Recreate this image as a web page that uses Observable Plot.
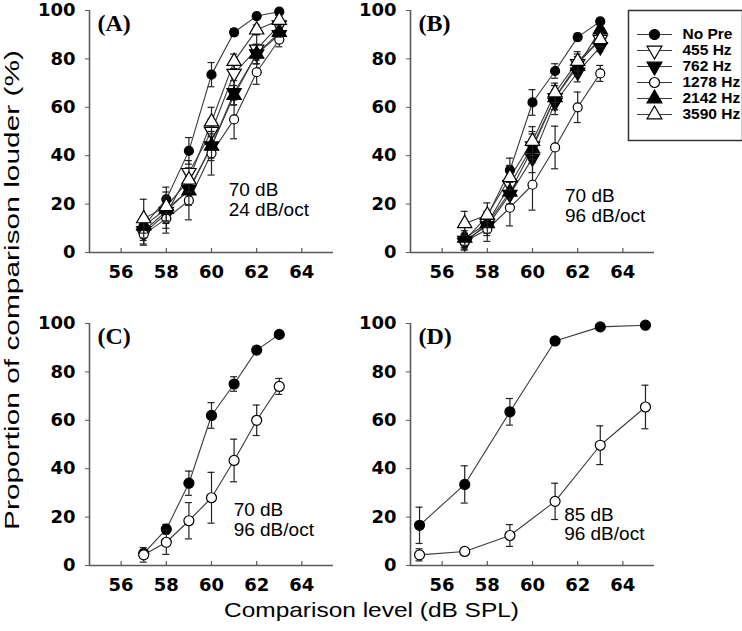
<!DOCTYPE html>
<html><head><meta charset="utf-8">
<script src="https://cdn.jsdelivr.net/npm/d3@7"></script>
<script src="https://cdn.jsdelivr.net/npm/@observablehq/plot@0.6"></script>
<style>
body{margin:0;background:#fff;}
#root{position:relative;width:742px;height:631px;overflow:hidden;background:#fff;font-family:"Liberation Sans",Arial,sans-serif;}
.panel{position:absolute;line-height:0;}
.panel svg{max-width:none;display:block;overflow:visible;}
</style></head><body><div id="root"></div>
<script>
// ---- series definitions ----
const seriesNames   = ["No Pre", "455 Hz", "762 Hz", "1278 Hz", "2142 Hz", "3590 Hz"];
const markerSymbol  = ["circle", "triangle", "triangle", "circle", "triangle", "triangle"];
const markerFilled  = [true, false, true, false, true, false];
const markerRotate  = [0, 180, 180, 0, 0, 0];

// ---- axes ----
const xTicks = [56, 58, 60, 62, 64];
const yTicks = [0, 20, 40, 60, 80, 100];
const levelsABC = [57, 58, 59, 60, 61, 62, 63];
const levelsD = [55, 57, 59, 61, 63, 65];

// ---- Panel A (70 dB, 24 dB/oct) ----
const A_noPre   = [11, 22, 42, 73.5, 91, 97.7, 99.5];
const A_noPreE  = [3, 5, 5.5, 5, 1.5, 1, 0.5];
const A_455     = [8, 16, 33, 50, 74, 84, 94];
const A_455E    = [5, 6, 5, 5, 5, 6, 3];
const A_762     = [9, 17, 26, 44, 66, 82, 90];
const A_762E    = [4, 5, 6, 6, 5, 4, 3];
const A_1278    = [7.5, 14, 21.5, 41, 55, 74.5, 88];
const A_1278E   = [4, 6, 8, 9, 8, 5, 3];
const A_2142    = [11, 18, 25.5, 44, 65, 82, 91];
const A_2142E   = [3, 5, 6, 5, 4, 4, 2];
const A_3590    = [14, 19, 30, 54, 79, 92, 96];
const A_3590E   = [8, 6, 5, 6, 3, 2, 2];

// ---- Panel B (70 dB, 96 dB/oct) ----
const B_noPre   = [5, 15, 34, 62, 75, 89, 95.5];
const B_noPreE  = [1.5, 2, 5, 5.3, 3, 1.5, 1];
const B_455     = [4, 12, 28, 44, 64, 78, 88];
const B_455E    = [3, 4, 5, 6, 5, 4, 3];
const B_762     = [5, 11, 24, 39, 62, 74.5, 85];
const B_762E    = [3, 4, 5, 6, 5, 4, 2];
const B_1278    = [4.4, 9.6, 18.5, 28, 43.4, 60, 74];
const B_1278E   = [3, 5, 7.5, 10.5, 8.8, 6.3, 3.3];
const B_2142    = [6, 12, 25, 43, 64, 77, 92];
const B_2142E   = [3, 4, 5, 6, 5, 4, 2];
const B_3590    = [12, 15.5, 31, 46, 66, 79, 88];
const B_3590E   = [5, 5, 5, 6, 4, 4, 3];

// ---- Panel C (70 dB, 96 dB/oct; No Pre vs 1278 Hz) ----
const C_noPre   = [5, 15, 34, 62, 75, 89, 95.5];
const C_noPreE  = [1.5, 2, 5, 5.3, 3, 1.5, 1];
const C_1278    = [4.4, 9.6, 18.5, 28, 43.4, 60, 74];
const C_1278E   = [3, 5, 7.5, 10.5, 8.8, 6.3, 3.3];

// ---- Panel D (85 dB, 96 dB/oct; No Pre vs 1278 Hz) ----
const D_noPre   = [16.6, 33.5, 63.5, 92.8, 98.6, 99.3];
const D_noPreE  = [7.5, 7.7, 5.5, 1.5, 1, 1];
const D_1278    = [4.4, 5.8, 12.4, 26.5, 49.7, 65.5];
const D_1278E   = [2.5, 1.5, 4.5, 7.5, 8, 9];

const panels = [
  {label: "(A)", note: "70 dB\n24 dB/oct", noteX: 60.76, noteY: 21.9, left: 0, top: 0, r: 4.5, levels: levelsABC,
   series: [[0, A_noPre, A_noPreE], [1, A_455, A_455E], [2, A_762, A_762E], [3, A_1278, A_1278E], [4, A_2142, A_2142E], [5, A_3590, A_3590E]]},
  {label: "(B)", note: "70 dB\n96 dB/oct", noteX: 61.44, noteY: 19.4, left: 321, top: 0, r: 4.5, levels: levelsABC,
   series: [[0, B_noPre, B_noPreE], [1, B_455, B_455E], [2, B_762, B_762E], [3, B_1278, B_1278E], [4, B_2142, B_2142E], [5, B_3590, B_3590E]]},
  {label: "(C)", note: "70 dB\n96 dB/oct", noteX: 60.98, noteY: 19, left: 0, top: 313, r: 5, levels: levelsABC,
   series: [[0, C_noPre, C_noPreE], [3, C_1278, C_1278E]]},
  {label: "(D)", note: "85 dB\n96 dB/oct", noteX: 61.4, noteY: 17.1, left: 321, top: 313, r: 5, levels: levelsD,
   series: [[0, D_noPre, D_noPreE], [3, D_1278, D_1278E]]}
];

const root = document.getElementById("root");
const axisColor = "#5a5a5a";
const lineColor = "#3a3a3a";
const tickFont = "DejaVu Sans, Liberation Sans, Arial, sans-serif";
const xDomain = [54.6, 65.4];

function makePanel(cfg) {
  const marks = [
    Plot.ruleY([0], {stroke: axisColor, strokeWidth: 1.6}),
    Plot.ruleX([xDomain[0]], {stroke: axisColor, strokeWidth: 1.6}),
    Plot.ruleX(xTicks, {x: d => d, y1: 0, y2: 0, insetTop: -4, stroke: axisColor, strokeWidth: 1.2}),
    Plot.axisX({ticks: xTicks, tickSize: 0, tickPadding: 13, fontSize: 18, fontWeight: "bold", fontFamily: tickFont, label: null, fill: "#000"}),
    Plot.axisY({ticks: yTicks, tickSize: 4, tickPadding: 10, fontSize: 18, fontWeight: "bold", fontFamily: tickFont, label: null, stroke: axisColor, fill: "#000"})
  ];
  for (const [si, vals, errs] of cfg.series) {
    const rows = vals.map((v, i) => ({x: cfg.levels[i], y: v, e: errs[i]}));
    marks.push(Plot.line(rows, {x: "x", y: "y", stroke: lineColor, strokeWidth: 1.1}));
  }
  for (const [si, vals, errs] of cfg.series) {
    const rows = vals.map((v, i) => ({x: cfg.levels[i], y: v, e: errs[i]}));
    marks.push(Plot.ruleX(rows, {x: "x", y1: d => d.y - d.e, y2: d => Math.min(100.5, d.y + d.e), stroke: "#222", strokeWidth: 1.2}));
    marks.push(Plot.ruleY(rows, {y: d => d.y - d.e, x1: "x", x2: "x", insetLeft: -3.5, insetRight: -3.5, stroke: "#222", strokeWidth: 1.2}));
    marks.push(Plot.ruleY(rows, {y: d => Math.min(100.5, d.y + d.e), x1: "x", x2: "x", insetLeft: -3.5, insetRight: -3.5, stroke: "#222", strokeWidth: 1.2}));
    marks.push(Plot.dot(rows, {x: "x", y: "y", symbol: markerSymbol[si], rotate: markerRotate[si],
      r: markerSymbol[si] === "circle" ? cfg.r : cfg.r + 0.8,
      fill: markerFilled[si] ? "#000" : "#fff", stroke: "#000", strokeWidth: 1.2}));
  }
  marks.push(Plot.text([cfg.label], {text: d => d, frameAnchor: "top-left", dx: 8, dy: 3, lineAnchor: "top", textAnchor: "start",
    fontFamily: "Liberation Serif, Times New Roman, serif", fontWeight: "bold", fontSize: 24, fill: "#000"}));
  marks.push(Plot.text([cfg.note], {text: d => d, x: cfg.noteX, y: cfg.noteY, textAnchor: "start", lineAnchor: "middle",
    fontSize: 19, lineHeight: 1.05, fill: "#000"}));

  const chart = Plot.plot({
    width: 371, height: 300,
    marginLeft: 89, marginRight: 38, marginTop: 10, marginBottom: 48,
    x: {domain: xDomain},
    y: {domain: [0, 100]},
    style: {background: "transparent", fontFamily: "Liberation Sans, Arial, sans-serif", color: "#000"},
    marks
  });
  const div = document.createElement("div");
  div.className = "panel";
  div.style.left = cfg.left + "px";
  div.style.top = cfg.top + "px";
  div.appendChild(chart);
  root.appendChild(div);
}
panels.forEach(makePanel);

// ---- legend ----
const legendRows = seriesNames.map((name, i) => ({name, i}));
const legendMarks = [
  Plot.frame({stroke: "#333", strokeWidth: 1.5}),
  Plot.ruleY(legendRows, {y: "name", x1: 9, x2: 44, stroke: lineColor, strokeWidth: 1.1})
];
legendRows.forEach(row => {
  legendMarks.push(Plot.dot([row], {y: "name", x: 26, symbol: markerSymbol[row.i], rotate: markerRotate[row.i],
    r: markerSymbol[row.i] === "circle" ? 5 : 5.5,
    fill: markerFilled[row.i] ? "#000" : "#fff", stroke: "#000", strokeWidth: 1.2}));
});
legendMarks.push(Plot.text(legendRows, {y: "name", x: 54, text: "name", textAnchor: "start", fontSize: 15.5, fontWeight: "bold",
  fontFamily: "Liberation Sans, Arial, sans-serif", fill: "#000"}));
const legend = Plot.plot({
  width: 114, height: 130, margin: 0,
  x: {type: "identity", axis: null},
  y: {type: "point", domain: seriesNames, range: [14.3, 114.3], axis: null},
  style: {background: "#fff", fontFamily: "Liberation Sans, Arial, sans-serif"},
  marks: legendMarks
});
const ld = document.createElement("div");
ld.className = "panel";
ld.style.left = "628px";
ld.style.top = "10px";
ld.appendChild(legend);
root.appendChild(ld);

// ---- axis titles ----
const ns = "http://www.w3.org/2000/svg";
function titleSvg(left, top, w, h, x, y, rot, txt, len, size) {
  const svg = document.createElementNS(ns, "svg");
  svg.setAttribute("width", w); svg.setAttribute("height", h);
  svg.style.position = "absolute"; svg.style.left = left + "px"; svg.style.top = top + "px";
  const t = document.createElementNS(ns, "text");
  t.setAttribute("transform", `translate(${x},${y}) rotate(${rot})`);
  t.setAttribute("text-anchor", "middle");
  t.setAttribute("dominant-baseline", "central");
  t.setAttribute("font-family", "Liberation Sans, Arial, sans-serif");
  t.setAttribute("font-size", size);
  t.setAttribute("textLength", len);
  t.setAttribute("lengthAdjust", "spacingAndGlyphs");
  t.textContent = txt;
  svg.appendChild(t);
  root.appendChild(svg);
}
titleSvg(0, 0, 30, 631, 12, 290, -90, "Proportion of comparison louder (%)", 480, 20);
titleSvg(150, 592, 450, 36, 221.5, 17, 0, "Comparison level (dB SPL)", 295, 21);
</script>
</body></html>
